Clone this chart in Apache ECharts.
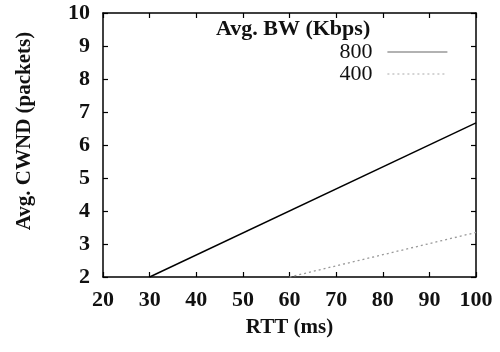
<!DOCTYPE html>
<html><head><meta charset="utf-8">
<script src="https://cdn.jsdelivr.net/npm/echarts@6/dist/echarts.min.js"></script>
<style>html,body{margin:0;padding:0;background:#fff}#c{width:500px;height:352px}</style>
</head><body><div id="c"></div>
<script>
const xTicks = [20, 30, 40, 50, 60, 70, 80, 90, 100];
const yTicks = [2, 3, 4, 5, 6, 7, 8, 9, 10];
const seriesNames = ['800', '400'];
const rtt800 = [30, 100];
const cwnd800 = [2, 6.67];
const rtt400 = [60, 100];
const cwnd400 = [2, 3.35];
const legendTitle = 'Avg. BW (Kbps)';
const xTitle = 'RTT (ms)';
const yTitle = 'Avg. CWND (packets)';

const font = '"Liberation Serif", "DejaVu Serif", serif';
const chart = echarts.init(document.getElementById('c'), null, {renderer: 'canvas'});
const axisCommon = {
  axisLine: {lineStyle: {color: '#000', width: 1.5}},
  axisTick: {inside: true, length: 5, lineStyle: {color: '#000', width: 1.2}},
  splitLine: {show: false}
};
chart.setOption({
  animation: false,
  backgroundColor: '#fff',
  grid: {left: 103, right: 24, top: 13, bottom: 75, containLabel: false},
  title: {
    text: legendTitle, left: 216, top: 18, padding: 0,
    textStyle: {fontFamily: font, fontSize: 22, fontWeight: 'bold', color: '#111'}
  },
  legend: {
    orient: 'vertical', right: 52, top: 41, align: 'right', padding: 0,
    itemWidth: 60, itemHeight: 12, itemGap: 0,
    itemStyle: {opacity: 0},
    textStyle: {fontFamily: font, fontSize: 22, color: '#111', padding: [0, 10, 0, 0], lineHeight: 22},
    data: [
      {name: seriesNames[0], lineStyle: {color: '#666', width: 1.2}},
      {name: seriesNames[1], lineStyle: {color: '#aaa', width: 1.2}}
    ]
  },
  xAxis: [{
    type: 'value', min: 20, max: 100, interval: 10, position: 'bottom',
    name: xTitle, nameLocation: 'middle', nameGap: 40,
    nameTextStyle: {fontFamily: font, fontSize: 21, fontWeight: 'bold', color: '#111'},
    axisLabel: {fontFamily: font, fontSize: 22, fontWeight: 'bold', color: '#111', margin: 12,
      formatter: v => xTicks.includes(v) ? String(v) : ''},
    ...axisCommon
  }, {
    type: 'value', min: 20, max: 100, interval: 10, position: 'top',
    axisLabel: {show: false}, ...axisCommon
  }],
  yAxis: [{
    type: 'value', min: 2, max: 10, interval: 1, position: 'left',
    name: yTitle, nameLocation: 'middle', nameGap: 68,
    nameTextStyle: {fontFamily: font, fontSize: 21, fontWeight: 'bold', color: '#111', padding: [0, 0, 0, 28]},
    axisLabel: {fontFamily: font, fontSize: 22, fontWeight: 'bold', color: '#111', margin: 13,
      formatter: v => yTicks.includes(v) ? String(v) : ''},
    ...axisCommon
  }, {
    type: 'value', min: 2, max: 10, interval: 1, position: 'right',
    axisLabel: {show: false}, ...axisCommon
  }],
  series: [{
    name: seriesNames[0], type: 'line', showSymbol: false, symbol: 'none',
    data: rtt800.map((x, i) => [x, cwnd800[i]]),
    lineStyle: {color: '#000', width: 1.4}, itemStyle: {color: '#000'}
  }, {
    name: seriesNames[1], type: 'line', showSymbol: false, symbol: 'none',
    data: rtt400.map((x, i) => [x, cwnd400[i]]),
    lineStyle: {color: '#999', width: 1.3, type: [2, 3]}, itemStyle: {color: '#999'}
  }]
});
</script></body></html>
